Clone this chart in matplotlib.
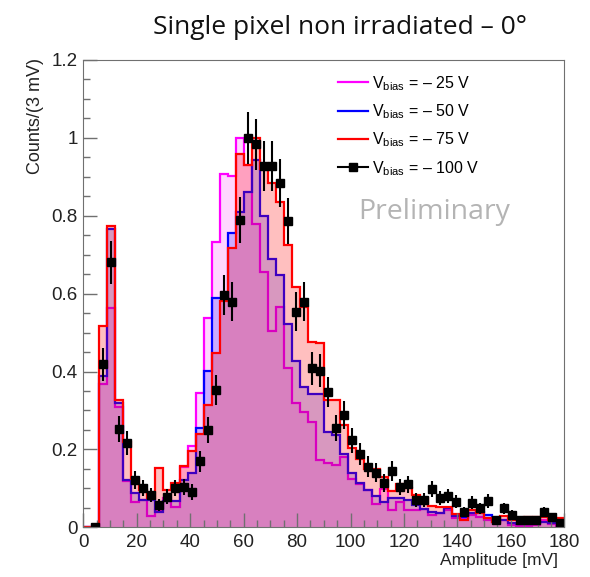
import numpy as np
import matplotlib.pyplot as plt
from matplotlib.lines import Line2D
from matplotlib.ticker import MultipleLocator, FuncFormatter

plt.rcParams['font.family'] = ['Liberation Sans', 'DejaVu Sans']
plt.rcParams['mathtext.fontset'] = 'custom'
plt.rcParams['mathtext.rm'] = 'Liberation Sans'

# 60 bins of 3 mV from 0 to 180 mV
bin_width = 3
edges = np.arange(61) * bin_width
centers = edges[:-1] + bin_width / 2

v25 = [0, 0, 0.368, 0.563, 0.31, 0.12, 0.066, 0.07, 0.029, 0.044,
       0.074, 0.051, 0.155, 0.209, 0.346, 0.537, 0.733, 0.906, 0.902, 1.0,
       0.93, 0.779, 0.656, 0.505, 0.567, 0.41, 0.32, 0.297, 0.271, 0.173,
       0.166, 0.160, 0.181, 0.125, 0.11, 0.095, 0.06, 0.098, 0.045, 0.066,
       0.045, 0.044, 0.046, 0.032, 0.036, 0.044, 0.023, 0.025, 0.032, 0.027,
       0.019, 0.014, 0.019, 0.006, 0.003, 0.003, 0.006, 0.019, 0.008, 0.003]

v50 = [0, 0, 0.388, 0.766, 0.32, 0.121, 0.087, 0.07, 0.07, 0.04,
       0.068, 0.068, 0.121, 0.139, 0.254, 0.402, 0.588, 0.59, 0.757, 0.81,
       0.862, 0.943, 0.80, 0.69, 0.648, 0.522, 0.427, 0.36, 0.342, 0.342,
       0.246, 0.237, 0.189, 0.139, 0.115, 0.096, 0.081, 0.064, 0.076, 0.076,
       0.071, 0.056, 0.046, 0.040, 0.036, 0.049, 0.030, 0.027, 0.038, 0.040,
       0.032, 0.019, 0.019, 0.010, 0.008, 0.008, 0.010, 0.014, 0.010, 0.010]

v75 = [0, 0, 0.517, 0.775, 0.327, 0.218, 0.125, 0.095, 0.074, 0.151,
       0.097, 0.113, 0.157, 0.196, 0.24, 0.314, 0.448, 0.58, 0.718, 0.959,
       0.93, 1.0, 0.92, 0.884, 0.836, 0.725, 0.618, 0.567, 0.476, 0.472,
       0.328, 0.328, 0.262, 0.203, 0.175, 0.15, 0.15, 0.128, 0.092, 0.111,
       0.10, 0.083, 0.074, 0.055, 0.053, 0.051, 0.034, 0.02, 0.044, 0.036,
       0.023, 0.014, 0.029, 0.019, 0.019, 0.027, 0.027, 0.027, 0.019, 0.025]

v100 = [np.nan, 0, 0.419, 0.680, 0.252, 0.217, 0.121, 0.100, 0.083, 0.057,
        0.079, 0.100, 0.104, 0.091, 0.169, 0.250, 0.353, 0.597, 0.579, 0.789,
        1.0, 0.984, 0.928, 0.928, 0.885, 0.787, 0.554, 0.579, 0.408, 0.402,
        0.348, 0.254, 0.289, 0.223, 0.188, 0.156, 0.140, 0.114, 0.145, 0.104,
        0.110, 0.070, 0.070, 0.098, 0.074, 0.080, 0.066, 0.040, 0.063, 0.049,
        0.068, 0.019, 0.049, 0.032, 0.019, 0.019, 0.019, 0.040, 0.027, 0.012]

# poisson errors, about 230 entries at the peak
err100 = np.sqrt(np.array(v100) / 230.0)

labels = ['V$_\\mathregular{bias}$ = \u2013 25 V', 'V$_\\mathregular{bias}$ = \u2013 50 V',
          'V$_\\mathregular{bias}$ = \u2013 75 V', 'V$_\\mathregular{bias}$ = \u2013 100 V']

W, H = 590, 577
fig = plt.figure(figsize=(W / 100, H / 100), dpi=100)
ax = fig.add_axes([83.3 / W, 1 - 527.3 / H, (564.3 - 83.3) / W, (527.3 - 60) / H])

for vals, col, a in [(v25, '#ff00ff', 0.16), (v50, '#0000ff', 0.2), (v75, '#ff0000', 0.25)]:
  ax.stairs(vals, edges, fill=True, color=col, alpha=a, lw=0)
  ax.stairs(vals, edges, color=col, lw=1.6)

ax.errorbar(centers, v100, yerr=err100, fmt='s', color='black', ms=5.5,
            elinewidth=1.5, capsize=0)

ax.set_xlim(0, 180)
ax.set_ylim(0, 1.2)
ax.xaxis.set_major_locator(MultipleLocator(20))
ax.xaxis.set_minor_locator(MultipleLocator(5))
ax.yaxis.set_major_locator(MultipleLocator(0.2))
ax.yaxis.set_minor_locator(MultipleLocator(0.05))
ax.yaxis.set_major_formatter(FuncFormatter(lambda v, p: '%g' % round(v, 2)))
ax.tick_params(which='both', direction='in', colors='#707070', labelcolor='#222222',
               labelsize=13.5, top=False, right=False)
ax.tick_params(which='major', length=10, width=1)
ax.tick_params(which='minor', length=5, width=1)
ax.tick_params(axis='y', pad=4)
ax.tick_params(axis='x', pad=5)
for s in ax.spines.values():
  s.set_color('#707070')

handles = [Line2D([], [], color='#ff00ff', lw=1.6),
           Line2D([], [], color='#0000ff', lw=1.6),
           Line2D([], [], color='#ff0000', lw=1.6),
           Line2D([], [], color='black', lw=1.5, marker='s', ms=5.5)]
ax.legend(handles, labels, loc='upper left', bbox_to_anchor=((338 - 83.3) / 481, 1 - 14 / 467.3),
          frameon=False, fontsize=11.5, handlelength=1.9, handletextpad=0.2,
          labelspacing=0.6, borderaxespad=0, borderpad=0)

fig.text(340 / W, 1 - 27 / H, 'Single pixel non irradiated \u2013 0\u00b0', fontsize=19,
         family='Open Sans', ha='center', va='center', color='#111111')
fig.text(434 / W, 1 - 212 / H, 'Preliminary', fontsize=20.5, family='Open Sans',
         color='#b4b4b4', ha='center', va='center')
fig.text(35 / W, 1 - 58 / H, 'Counts/(3 mV)', fontsize=13, rotation=90,
         ha='center', va='top', color='#222222')
fig.text(558 / W, 1 - 561 / H, 'Amplitude [mV]', fontsize=12.5, ha='right',
         va='center', color='#222222')

fig.savefig('out.png', dpi=100)
